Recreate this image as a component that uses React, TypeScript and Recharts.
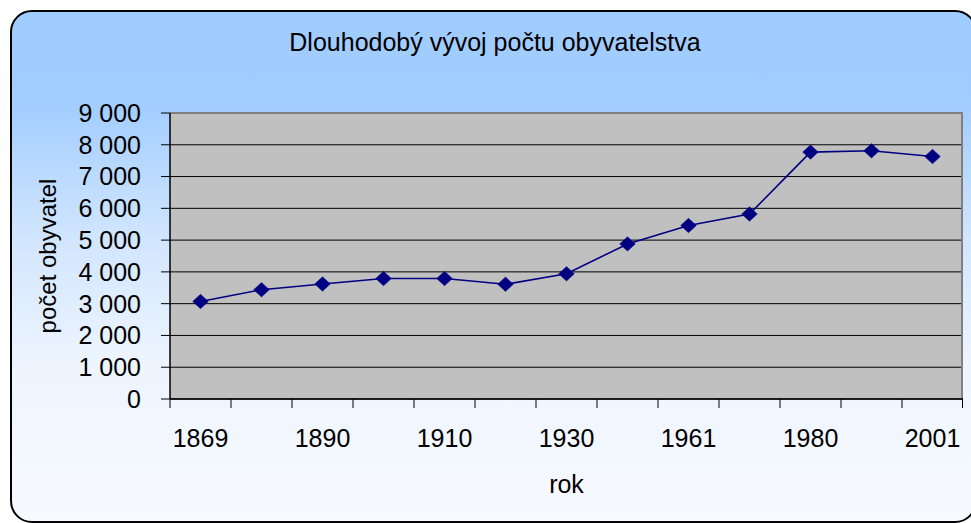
import React from 'react';
import {
  ComposedChart,
  Line,
  XAxis,
  YAxis,
  CartesianGrid,
  ReferenceLine,
} from 'recharts';

const title = 'Dlouhodobý vývoj počtu obyvatelstva';
const xTitle = 'rok';
const yTitle = 'počet obyvatel';

const years = ['1869', '1880', '1890', '1900', '1910', '1921', '1930', '1950', '1961', '1970', '1980', '1991', '2001'];
const population = [3070, 3440, 3620, 3790, 3790, 3610, 3940, 4880, 5460, 5820, 7770, 7810, 7630];
const yTicks = [0, 1000, 2000, 3000, 4000, 5000, 6000, 7000, 8000, 9000];

const data = years.map((y, i) => ({ year: y, pop: population[i] }));

const FONT = '"Liberation Sans", Arial, sans-serif';
const NAVY = '#000080';

const fmt = (v: number) => String(v).replace(/\B(?=(\d{3})+(?!\d))/g, ' ');

const Diamond = (props: any) => {
  const { cx, cy } = props;
  if (cx == null || cy == null) return null;
  const w = 7.8;
  const h = 7.2;
  return (
    <path
      d={`M${cx},${cy - h} L${cx + w},${cy} L${cx},${cy + h} L${cx - w},${cy} Z`}
      fill={NAVY}
      stroke={NAVY}
      strokeWidth={0.5}
    />
  );
};

const XTick = (props: any) => {
  const { x, y, payload, index } = props;
  const half = (payload && payload.offset) || 0;
  const last = index === years.length - 1;
  return (
    <g>
      <line x1={x - half} x2={x - half} y1={y} y2={y + 9} stroke="#000" strokeWidth={1} />
      {last && <line x1={x + half - 0.5} x2={x + half - 0.5} y1={y} y2={y + 9} stroke="#000" strokeWidth={1} />}
      {index % 2 === 0 && (
        <text
          x={x}
          y={y + 30}
          dy="0.71em"
          textAnchor="middle"
          fontFamily={FONT}
          fontSize={25}
          fill="#000"
        >
          {payload.value}
        </text>
      )}
    </g>
  );
};

const YLabel = (props: any) => {
  const vb = props.viewBox || {};
  const x = (vb.x || 0) + 56;
  const y = (vb.y || 0) + (vb.height || 0) / 2;
  return (
    <text
      x={x}
      y={y}
      transform={`rotate(-90, ${x}, ${y})`}
      textAnchor="middle"
      fontFamily={FONT}
      fontSize={24}
      fill="#000"
    >
      {yTitle}
    </text>
  );
};

const XLabel = (props: any) => {
  const vb = props.viewBox || {};
  const x = (vb.x || 0) + (vb.width || 0) / 2;
  const y = (vb.y || 0) + 94;
  return (
    <text x={x} y={y} textAnchor="middle" fontFamily={FONT} fontSize={25} fill="#000">
      {xTitle}
    </text>
  );
};

const rightEdge = (p: any) => [p.offset.left + p.offset.width - 1];

export default function App() {
  return (
    <div
      style={{
        position: 'absolute',
        left: 0,
        top: 0,
        width: 971,
        height: 523,
        overflow: 'hidden',
        background: '#fff',
      }}
    >
      <div
        style={{
          position: 'absolute',
          left: 10,
          top: 10,
          width: 967,
          height: 513,
          boxSizing: 'border-box',
          border: '2px solid #000',
          borderRadius: 22,
          background:
            'linear-gradient(to bottom, #9FCCFF 0%, #A2CDFF 18%, #D2E6FF 45%, #EEF5FF 70%, #F7FAFF 100%)',
        }}
      />
      <svg width={971} height={523} style={{ position: 'absolute', left: 0, top: 0 }}>
        <text x={495} y={51} textAnchor="middle" fontFamily={FONT} fontSize={25} fill="#000">
          {title}
        </text>
      </svg>
      <div style={{ position: 'absolute', left: 0, top: 0 }}>
        <ComposedChart
          width={963}
          height={523}
          data={data}
          margin={{ top: 113, right: 0, bottom: 0, left: 0 }}
        >
          <CartesianGrid
            vertical={false}
            horizontal={true}
            stroke="#000"
            strokeWidth={1}
            fill="#C0C0C0"
            fillOpacity={1}
          />
          <CartesianGrid
            horizontal={false}
            vertical={true}
            verticalCoordinatesGenerator={rightEdge}
            stroke="#808080"
            strokeWidth={2}
          />
          <XAxis
            dataKey="year"
            type="category"
            scale="band"
            interval={0}
            height={124}
            tickLine={false}
            axisLine={{ stroke: '#000', strokeWidth: 1.5 }}
            tickSize={0}
            tickMargin={0}
            tick={<XTick />}
            label={<XLabel />}
          />
          <YAxis
            domain={[0, 9000]}
            ticks={yTicks}
            width={170}
            tickSize={9}
            tickMargin={20}
            tickFormatter={fmt}
            tickLine={{ stroke: '#000', strokeWidth: 1 }}
            axisLine={{ stroke: '#000', strokeWidth: 1.5 }}
            tick={{ fill: '#000', fontSize: 25, fontFamily: FONT }}
            interval={0}
            label={<YLabel />}
          />
          <ReferenceLine y={9000} stroke="#808080" strokeWidth={2} />
          <Line
            dataKey="pop"
            stroke={NAVY}
            strokeWidth={1.6}
            dot={<Diamond />}
            activeDot={false}
            isAnimationActive={false}
          />
        </ComposedChart>
      </div>
    </div>
  );
}
